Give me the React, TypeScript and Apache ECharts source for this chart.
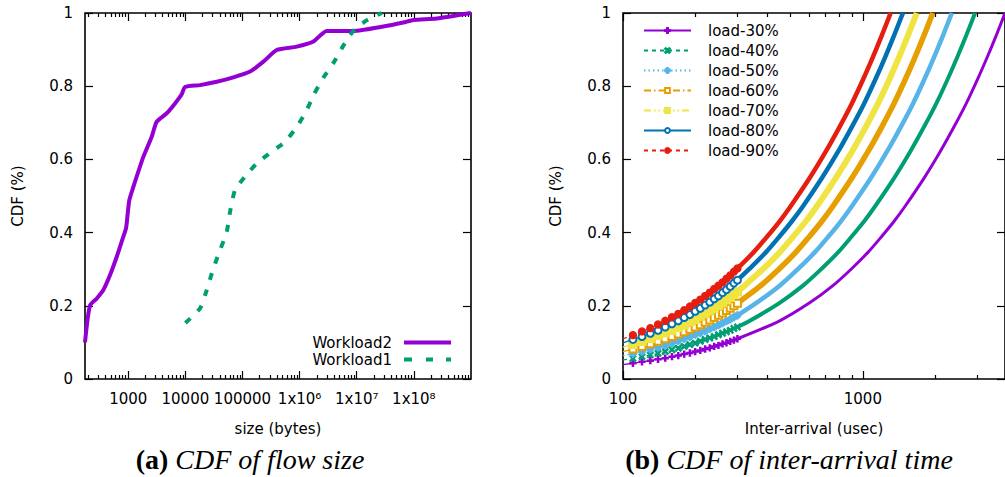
import { useEffect, useRef } from 'react';
import * as echarts from 'echarts';

// ---------- (a) CDF of flow size ----------
const workload2X = [175, 213, 281, 366, 480, 629, 801, 915, 980, 1045, 1228, 1838, 2577, 3155, 4720, 6590, 8630, 9860, 18070, 35400, 69200, 135500, 232000, 397000, 889000, 1740000, 2980000, 8710000, 29200000, 65300000, 98000000, 252000000, 1000000000];
const workload2Y = [0.10, 0.20, 0.22, 0.243, 0.284, 0.334, 0.384, 0.412, 0.453, 0.489, 0.525, 0.607, 0.662, 0.703, 0.726, 0.753, 0.778, 0.798, 0.803, 0.812, 0.824, 0.84, 0.867, 0.899, 0.908, 0.922, 0.951, 0.951, 0.963, 0.974, 0.981, 0.985, 1.0];
const workload1X = [10000, 18070, 23650, 30900, 40500, 53000, 60600, 74000, 110700, 177300, 325000, 556000, 890000, 1290000, 1790000, 2600000, 3890000, 5690000, 8510000, 14600000, 27400000];
const workload1Y = [0.153, 0.193, 0.243, 0.302, 0.352, 0.402, 0.457, 0.516, 0.553, 0.589, 0.621, 0.648, 0.689, 0.730, 0.778, 0.823, 0.863, 0.908, 0.949, 0.979, 1.0];
const sizeTickValues = [1000, 10000, 100000, 1000000, 10000000, 100000000];
const sizeTickLabels = ['1000', '10000', '100000', '1x10\u2076', '1x10\u2077', '1x10\u2078'];

// ---------- (b) CDF of inter-arrival time ----------
const loadNames = ['load-30%', 'load-40%', 'load-50%', 'load-60%', 'load-70%', 'load-80%', 'load-90%'];
const interLowX = [100, 110, 120, 130, 140, 150, 160, 170, 180, 190, 200, 210, 220, 230, 240, 250, 260, 270, 280, 290, 300];
const load30Low = [0.039, 0.043, 0.047, 0.050, 0.054, 0.057, 0.061, 0.064, 0.068, 0.071, 0.075, 0.078, 0.082, 0.085, 0.089, 0.092, 0.096, 0.099, 0.103, 0.106, 0.110];
const load40Low = [0.052, 0.056, 0.061, 0.066, 0.070, 0.075, 0.080, 0.084, 0.089, 0.094, 0.098, 0.103, 0.108, 0.112, 0.116, 0.121, 0.125, 0.129, 0.133, 0.138, 0.142];
const load50Low = [0.064, 0.069, 0.075, 0.081, 0.087, 0.092, 0.098, 0.104, 0.110, 0.115, 0.121, 0.126, 0.131, 0.137, 0.142, 0.147, 0.153, 0.158, 0.163, 0.169, 0.174];
const load60Low = [0.075, 0.082, 0.089, 0.096, 0.103, 0.110, 0.116, 0.123, 0.129, 0.136, 0.142, 0.148, 0.155, 0.161, 0.168, 0.174, 0.180, 0.187, 0.193, 0.200, 0.207];
const load70Low = [0.087, 0.095, 0.103, 0.111, 0.119, 0.126, 0.133, 0.141, 0.148, 0.156, 0.163, 0.171, 0.178, 0.186, 0.193, 0.201, 0.208, 0.216, 0.223, 0.231, 0.238];
const load80Low = [0.099, 0.108, 0.116, 0.125, 0.133, 0.142, 0.151, 0.159, 0.168, 0.176, 0.185, 0.193, 0.202, 0.210, 0.219, 0.227, 0.236, 0.244, 0.253, 0.262, 0.270];
const load90Low = [0.110, 0.120, 0.130, 0.139, 0.149, 0.159, 0.169, 0.178, 0.188, 0.198, 0.208, 0.217, 0.227, 0.236, 0.246, 0.255, 0.264, 0.274, 0.283, 0.293, 0.302];

const load30HighX = [300, 450, 600, 750, 900, 1050, 1200, 1350, 1500, 1800, 2100, 2400, 2700, 3000, 3300, 3600, 3900, 3915];
const load30HighY = [0.110, 0.159, 0.208, 0.255, 0.302, 0.346, 0.390, 0.431, 0.472, 0.549, 0.621, 0.689, 0.753, 0.817, 0.879, 0.939, 0.997, 1.0];
const load40HighX = [300, 338, 450, 563, 675, 788, 900, 1013, 1125, 1350, 1575, 1800, 2025, 2250, 2475, 2700, 2925, 2936];
const load40HighY = [0.142, 0.159, 0.208, 0.255, 0.302, 0.346, 0.390, 0.431, 0.472, 0.549, 0.621, 0.689, 0.753, 0.817, 0.879, 0.939, 0.997, 1.0];
const load50HighX = [300, 360, 450, 540, 630, 720, 810, 900, 1080, 1260, 1440, 1620, 1800, 1980, 2160, 2340, 2349];
const load50HighY = [0.174, 0.208, 0.255, 0.302, 0.346, 0.390, 0.431, 0.472, 0.549, 0.621, 0.689, 0.753, 0.817, 0.879, 0.939, 0.997, 1.0];
const load60HighX = [300, 375, 450, 525, 600, 675, 750, 900, 1050, 1200, 1350, 1500, 1650, 1800, 1950, 1958];
const load60HighY = [0.207, 0.255, 0.302, 0.346, 0.390, 0.431, 0.472, 0.549, 0.621, 0.689, 0.753, 0.817, 0.879, 0.939, 0.997, 1.0];
const load70HighX = [300, 321, 386, 450, 514, 579, 643, 771, 900, 1029, 1157, 1286, 1414, 1543, 1671, 1678];
const load70HighY = [0.238, 0.255, 0.302, 0.346, 0.390, 0.431, 0.472, 0.549, 0.621, 0.689, 0.753, 0.817, 0.879, 0.939, 0.997, 1.0];
const load80HighX = [300, 338, 394, 450, 506, 563, 675, 788, 900, 1013, 1125, 1238, 1350, 1463, 1468];
const load80HighY = [0.270, 0.302, 0.346, 0.390, 0.431, 0.472, 0.549, 0.621, 0.689, 0.753, 0.817, 0.879, 0.939, 0.997, 1.0];
const load90HighX = [300, 350, 400, 450, 500, 600, 700, 800, 900, 1000, 1100, 1200, 1300, 1305];
const load90HighY = [0.302, 0.346, 0.390, 0.431, 0.472, 0.549, 0.621, 0.689, 0.753, 0.817, 0.879, 0.939, 0.997, 1.0];
const interTickValues = [100, 1000];
const interTickLabels = ['100', '1000'];

const FONT = 'DejaVu Sans';
const SERIF = 'Liberation Serif';

const PLUS = 'path://M0,4H10V6H0Z M4,0H6V10H4Z';
const CROSS = 'path://M1.4,0L5,3.6L8.6,0L10,1.4L6.4,5L10,8.6L8.6,10L5,6.4L1.4,10L0,8.6L3.6,5L0,1.4Z';
const STAR = 'path://M0,4.3H10V5.7H0Z M4.3,0H5.7V10H4.3Z M1.5,2.5L2.5,1.5L8.5,7.5L7.5,8.5Z M7.5,1.5L8.5,2.5L2.5,8.5L1.5,7.5Z';

function minorTicks(lo: number, hi: number): number[] {
  const out: number[] = [];
  for (let d = Math.pow(10, Math.floor(Math.log10(lo))); d < hi; d *= 10) {
    for (let m = 2; m <= 9; m++) {
      const v = m * d;
      if (v > lo && v < hi) out.push(v);
    }
  }
  return out;
}

function labelFor(values: number[], labels: string[]) {
  return (v: number) => {
    const e = Math.round(Math.log10(v) * 1000);
    const i = values.findIndex((t) => Math.round(Math.log10(t) * 1000) === e);
    return i >= 0 ? labels[i] : '';
  };
}

const tickLine = { color: '#000', width: 1.2 };

function xAxes(gridIndex: number, min: number, max: number, major: number[], labels: string[], name: string) {
  const minor = minorTicks(min, max);
  const base = {
    type: 'log', logBase: 10, gridIndex, min, max,
    axisLine: { show: false }, splitLine: { show: false }, minorTick: { show: false },
  };
  return [
    {
      ...base, position: 'bottom',
      axisTick: { show: true, inside: true, length: 8, lineStyle: tickLine, customValues: major },
      axisLabel: {
        show: true, customValues: major, formatter: labelFor(major, labels),
        color: '#000', fontSize: 15, fontFamily: FONT, margin: 12,
      },
      name, nameLocation: 'middle', nameGap: 42,
      nameTextStyle: { color: '#000', fontSize: 15, fontFamily: FONT },
    },
    {
      ...base, position: 'bottom',
      axisTick: { show: true, inside: true, length: 4, lineStyle: tickLine, customValues: minor },
      axisLabel: { show: false },
    },
    {
      ...base, position: 'top',
      axisTick: { show: true, inside: true, length: 8, lineStyle: tickLine, customValues: major },
      axisLabel: { show: false },
    },
    {
      ...base, position: 'top',
      axisTick: { show: true, inside: true, length: 4, lineStyle: tickLine, customValues: minor },
      axisLabel: { show: false },
    },
  ];
}

function yAxes(gridIndex: number) {
  const base = {
    type: 'value', gridIndex, min: 0, max: 1, interval: 0.2,
    axisLine: { show: false }, splitLine: { show: false },
    axisTick: { show: true, inside: true, length: 8, lineStyle: tickLine },
  };
  return [
    {
      ...base, position: 'left',
      axisLabel: { color: '#000', fontSize: 15, fontFamily: FONT, margin: 12 },
      name: 'CDF (%)', nameLocation: 'middle', nameGap: 60,
      nameTextStyle: { color: '#000', fontSize: 15, fontFamily: FONT },
    },
    { ...base, position: 'right', axisLabel: { show: false } },
  ];
}

const zip = (xs: number[], ys: number[]) => xs.map((x, i) => [x, ys[i]]);

const loadStyles = [
  { low: load30Low, hx: load30HighX, hy: load30HighY, color: '#9400d3', symbol: PLUS, size: 6, dash: 'solid' as any, band: 3 },
  { low: load40Low, hx: load40HighX, hy: load40HighY, color: '#009e73', symbol: CROSS, size: 6, dash: [4, 4], band: 4 },
  { low: load50Low, hx: load50HighX, hy: load50HighY, color: '#56b4e9', symbol: STAR, size: 7, dash: [1.5, 3], band: 4.5 },
  { low: load60Low, hx: load60HighX, hy: load60HighY, color: '#e69f00', symbol: 'emptyRect', size: 7, dash: [7, 3, 1.5, 3], band: 5.5 },
  { low: load70Low, hx: load70HighX, hy: load70HighY, color: '#f0e442', symbol: 'rect', size: 8, dash: [7, 3, 1.5, 3, 1.5, 3], band: 6 },
  { low: load80Low, hx: load80HighX, hy: load80HighY, color: '#0072b2', symbol: 'emptyCircle', size: 7, dash: 'solid' as any, band: 4.5 },
  { low: load90Low, hx: load90HighX, hy: load90HighY, color: '#e51e10', symbol: 'circle', size: 7, dash: [4, 4], band: 4.5 },
];

export default function App() {
  const ref = useRef<HTMLDivElement>(null);
  useEffect(() => {
    if (!ref.current) return;
    const chart = echarts.init(ref.current, null, { renderer: 'svg' });

    const markerSeries: any[] = [];
    const bandSeries: any[] = [];
    loadStyles.forEach((s, i) => {
      markerSeries.push({
        type: 'line', name: loadNames[i], xAxisIndex: 4, yAxisIndex: 2,
        data: interLowX.map((x, k) => (k === 0 ? { value: [x, s.low[k]], symbol: 'none' } : [x, s.low[k]])),
        symbol: s.symbol, symbolSize: s.size, showSymbol: true,
        lineStyle: { color: s.color, width: 1.3, type: s.dash },
        itemStyle: { color: s.color, borderColor: s.color, borderWidth: 1.3 },
        z: 3 + i,
      });
      bandSeries.push({
        type: 'line', name: loadNames[i], xAxisIndex: 4, yAxisIndex: 2,
        data: zip(s.hx, s.hy), symbol: 'none', smooth: 0.3,
        lineStyle: { color: s.color, width: s.band },
        itemStyle: { color: s.color },
        z: 3 + i,
      });
    });

    chart.setOption({
      animation: false,
      backgroundColor: '#fff',
      textStyle: { fontFamily: FONT },
      grid: [
        { left: 85, top: 13, width: 386, height: 366, show: true, borderColor: '#000', borderWidth: 1.6, backgroundColor: 'transparent' },
        { left: 623, top: 13, width: 387, height: 366, show: true, borderColor: '#000', borderWidth: 1.6, backgroundColor: 'transparent' },
      ],
      xAxis: [
        ...xAxes(0, 175, 1e9, sizeTickValues, sizeTickLabels, 'size (bytes)'),
        ...xAxes(1, 100, 3915, interTickValues, interTickLabels, 'Inter-arrival (usec)'),
      ],
      yAxis: [...yAxes(0), ...yAxes(1)],
      legend: [
        {
          data: [
            { name: 'Workload2', icon: 'path://M0,0H47V4H0Z' },
            { name: 'Workload1', icon: 'path://M0,0H8V4H0Z M22,0H29V4H22Z M42,0H47V4H42Z' },
          ],
          orient: 'vertical', align: 'right', right: 554, top: 335, padding: 0,
          itemWidth: 47, itemHeight: 4, itemGap: 2,
          textStyle: { color: '#000', fontSize: 15, fontFamily: FONT, padding: [0, 7, 0, 0] },
          selectedMode: false,
        },
        {
          data: loadNames,
          orient: 'vertical', align: 'left', left: 643, top: 23, padding: 0,
          itemWidth: 47, itemHeight: 6, itemGap: 5,
          textStyle: { color: '#000', fontSize: 15, fontFamily: FONT, padding: [0, 0, 0, 12] },
          selectedMode: false,
        },
      ],
      graphic: [
        {
          type: 'text', x: 250, y: 459,
          style: {
            text: '{b|(a) }{i|CDF of flow size}', align: 'center', verticalAlign: 'middle',
            rich: {
              b: { fontFamily: SERIF, fontWeight: 'bold', fontSize: 28, fill: '#000' },
              i: { fontFamily: SERIF, fontStyle: 'italic', fontSize: 28, fill: '#000' },
            },
          },
        },
        {
          type: 'text', x: 789, y: 459,
          style: {
            text: '{b|(b) }{i|CDF of inter-arrival time}', align: 'center', verticalAlign: 'middle',
            rich: {
              b: { fontFamily: SERIF, fontWeight: 'bold', fontSize: 28, fill: '#000' },
              i: { fontFamily: SERIF, fontStyle: 'italic', fontSize: 28, fill: '#000' },
            },
          },
        },
      ],
      series: [
        {
          type: 'line', name: 'Workload2', xAxisIndex: 0, yAxisIndex: 0,
          data: zip(workload2X, workload2Y), symbol: 'none', smooth: 0.2,
          lineStyle: { color: '#9400d3', width: 4 }, itemStyle: { color: '#9400d3' },
        },
        {
          type: 'line', name: 'Workload1', xAxisIndex: 0, yAxisIndex: 0,
          data: zip(workload1X, workload1Y), symbol: 'none', smooth: 0.2,
          lineStyle: { color: '#009e73', width: 4, type: [7, 10] }, itemStyle: { color: '#009e73' },
        },
        ...markerSeries,
        ...bandSeries,
      ],
    });
    return () => chart.dispose();
  }, []);
  return <div ref={ref} style={{ position: 'absolute', left: 0, top: 0, width: 1005, height: 477 }} />;
}
